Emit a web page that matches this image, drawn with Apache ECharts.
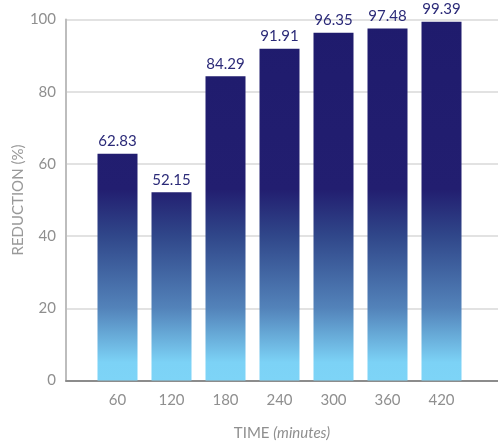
<!DOCTYPE html>
<html>
<head>
<meta charset="utf-8">
<script src="https://cdn.jsdelivr.net/npm/echarts@6/dist/echarts.min.js"></script>
<style>
  html, body { margin: 0; padding: 0; background: #fff; }
  #chart { width: 498px; height: 443px; }
</style>
</head>
<body>
<div id="chart"></div>
<script>
// Reduction measured at each sampling time
const times = ['60', '120', '180', '240', '300', '360', '420'];
const reduction = [62.83, 52.15, 84.29, 91.91, 96.35, 97.48, 99.39];
const yTicks = [0, 20, 40, 60, 80, 100];

const FONT = 'Lato, "Open Sans", sans-serif';
const TOP = 19.5, BOTTOM_Y = 380.5;

// Gradient in page coordinates so every bar shares the same colour ramp
const barFill = new echarts.graphic.LinearGradient(0, TOP, 0, BOTTOM_Y, [
  { offset: 0, color: '#1f1b6d' },
  { offset: 0.47, color: '#221e70' },
  { offset: 0.6, color: '#30478a' },
  { offset: 0.8, color: '#5383ba' },
  { offset: 0.95, color: '#7cd2f6' },
  { offset: 1, color: '#7dd4f7' }
], true);

const chart = echarts.init(document.getElementById('chart'), null, { renderer: 'canvas' });

chart.setOption({
  animation: false,
  grid: [
    // frame: axis lines and gridlines across the full width
    { left: 66, right: 0, top: TOP, bottom: 443 - BOTTOM_Y, outerBoundsMode: 'none', containLabel: false },
    // bars
    { left: 90.5, width: 378, top: TOP, bottom: 443 - BOTTOM_Y, outerBoundsMode: 'none', containLabel: false }
  ],
  xAxis: [
    {
      gridIndex: 0, type: 'value', min: 0, max: 1,
      axisLine: { show: true, lineStyle: { color: '#8c8c8c', width: 2 } },
      axisTick: { show: false }, axisLabel: { show: false }, splitLine: { show: false },
      name: '{a|TIME }{b|(minutes)}',
      nameLocation: 'middle', nameGap: 45, nameMoveOverlap: false,
      nameTextStyle: {
        rich: {
          a: { fontFamily: FONT, fontSize: 15, color: '#8f8f8f' },
          b: { fontFamily: FONT, fontSize: 15, color: '#8f8f8f', fontStyle: 'italic' }
        }
      }
    },
    {
      gridIndex: 1, type: 'category', data: times,
      axisLine: { show: false }, axisTick: { show: false },
      axisLabel: { color: '#8f8f8f', fontFamily: FONT, fontSize: 15, margin: 12 }
    }
  ],
  yAxis: [
    {
      gridIndex: 0, type: 'value', min: 0, max: 100, interval: 20,
      axisLine: { show: true, lineStyle: { color: '#bdbdbd', width: 2 } },
      axisTick: { show: false },
      axisLabel: { color: '#8f8f8f', fontFamily: FONT, fontSize: 15, margin: 10,
        formatter: v => yTicks.includes(v) ? String(v) : '' },
      splitLine: { show: true, lineStyle: { color: '#d9d9d9', width: 1.5 } },
      name: 'REDUCTION (%)', nameLocation: 'middle', nameGap: 48, nameRotate: 90,
      nameMoveOverlap: false,
      nameTextStyle: { color: '#999999', fontFamily: FONT, fontSize: 15, verticalAlign: 'middle' }
    },
    {
      gridIndex: 1, type: 'value', min: 0, max: 100, interval: 20,
      axisLine: { show: false }, axisTick: { show: false },
      axisLabel: { show: false }, splitLine: { show: false }
    }
  ],
  series: [{
    type: 'bar',
    xAxisIndex: 1, yAxisIndex: 1,
    data: reduction,
    barWidth: 40,
    itemStyle: { color: barFill },
    label: {
      show: true, position: 'top', distance: 5,
      color: '#2b2a78', fontFamily: FONT, fontSize: 15,
      formatter: p => p.value.toFixed(2)
    }
  }]
});
</script>
</body>
</html>
